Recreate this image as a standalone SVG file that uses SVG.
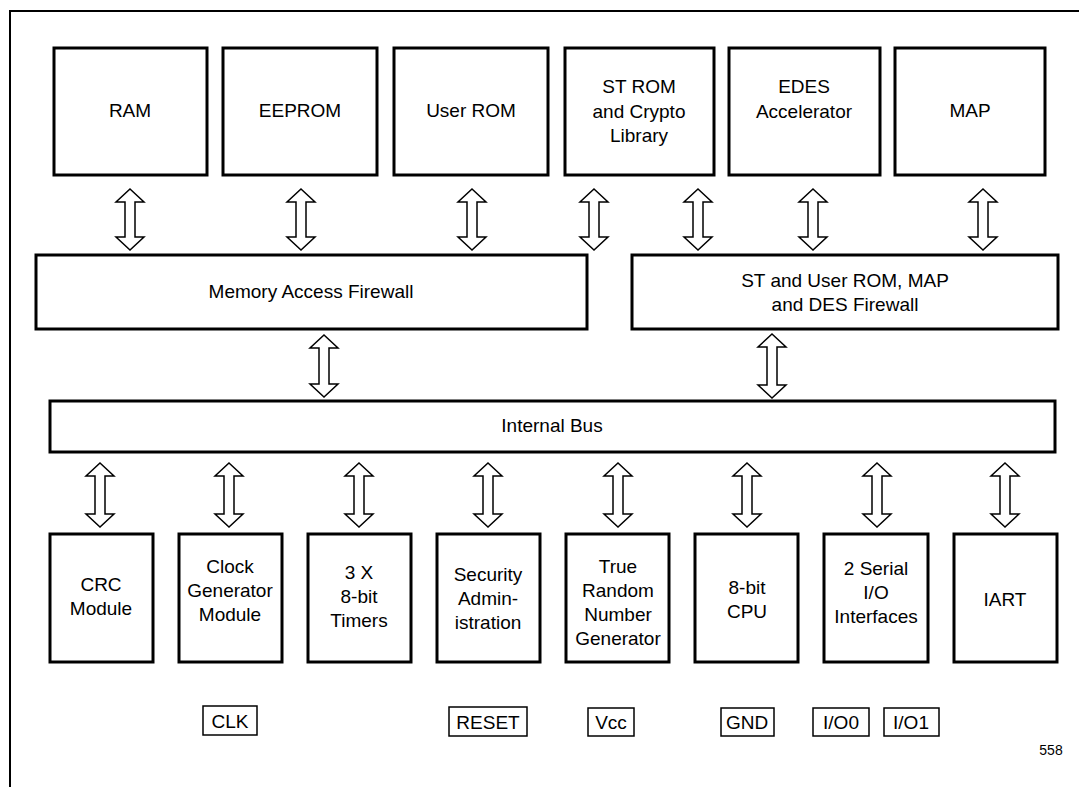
<svg xmlns="http://www.w3.org/2000/svg" width="1079" height="787" viewBox="0 0 1079 787">
<style>
.box{fill:#fff;stroke:#000;stroke-width:3}
.pin{fill:#fff;stroke:#000;stroke-width:1.5}
.arr{fill:#fff;stroke:#000;stroke-width:1.5;stroke-linejoin:miter}
text{font-family:"Liberation Sans",Arial,sans-serif;font-size:19px;fill:#000;text-anchor:middle}
.sm{font-size:14px}
</style>
<rect width="1079" height="787" fill="#fff"/>
<path d="M10 787 L10 11 L1079 11" fill="none" stroke="#000" stroke-width="2"/>

<g id="ram"><rect class="box" x="54" y="48" width="153" height="127"/><text x="130" y="117">RAM</text></g>
<g id="eeprom"><rect class="box" x="223" y="48" width="154" height="127"/><text x="300" y="117">EEPROM</text></g>
<g id="userrom"><rect class="box" x="394" y="48" width="154" height="127"/><text x="471" y="117">User ROM</text></g>
<g id="strom"><rect class="box" x="565" y="48" width="149" height="127"/><text x="639" y="93">ST ROM</text><text x="639" y="118">and Crypto</text><text x="639" y="142">Library</text></g>
<g id="edes"><rect class="box" x="729" y="48" width="151" height="127"/><text x="804" y="93">EDES</text><text x="804" y="118">Accelerator</text></g>
<g id="map"><rect class="box" x="895" y="48" width="150" height="127"/><text x="970" y="117">MAP</text></g>

<g id="memfw"><rect class="box" x="36" y="255" width="551" height="74"/><text x="311" y="298">Memory Access Firewall</text></g>
<g id="stfw"><rect class="box" x="632" y="255" width="426" height="74"/><text x="845" y="287">ST and User ROM, MAP</text><text x="845" y="311">and DES Firewall</text></g>
<g id="bus"><rect class="box" x="50" y="401" width="1005" height="51"/><text x="552" y="432">Internal Bus</text></g>

<g id="crc"><rect class="box" x="50" y="534" width="103" height="128"/><text x="101" y="591">CRC</text><text x="101" y="615">Module</text></g>
<g id="clock"><rect class="box" x="179" y="534" width="103" height="128"/><text x="230" y="573">Clock</text><text x="230" y="597">Generator</text><text x="230" y="621">Module</text></g>
<g id="timers"><rect class="box" x="308" y="534" width="103" height="128"/><text x="359" y="579">3 X</text><text x="359" y="603">8-bit</text><text x="359" y="627">Timers</text></g>
<g id="security"><rect class="box" x="437" y="534" width="103" height="128"/><text x="488" y="581">Security</text><text x="488" y="605">Admin-</text><text x="488" y="629">istration</text></g>
<g id="trng"><rect class="box" x="566" y="534" width="103" height="128"/><text x="618" y="573">True</text><text x="618" y="597">Random</text><text x="618" y="621">Number</text><text x="618" y="645">Generator</text></g>
<g id="cpu"><rect class="box" x="695" y="534" width="103" height="128"/><text x="747" y="594">8-bit</text><text x="747" y="618">CPU</text></g>
<g id="serial"><rect class="box" x="824" y="534" width="104" height="128"/><text x="876" y="575">2 Serial</text><text x="876" y="599">I/O</text><text x="876" y="623">Interfaces</text></g>
<g id="iart"><rect class="box" x="954" y="534" width="103" height="128"/><text x="1005" y="606">IART</text></g>

<g id="pin-clk"><rect class="pin" x="203" y="706" width="54" height="29"/><text x="230" y="728">CLK</text></g>
<g id="pin-reset"><rect class="pin" x="449" y="707" width="78" height="29"/><text x="488" y="729">RESET</text></g>
<g id="pin-vcc"><rect class="pin" x="588" y="708" width="46" height="28"/><text x="611" y="729">Vcc</text></g>
<g id="pin-gnd"><rect class="pin" x="721" y="708" width="53" height="28"/><text x="747" y="729">GND</text></g>
<g id="pin-io0"><rect class="pin" x="813" y="708" width="56" height="28"/><text x="841" y="729">I/O0</text></g>
<g id="pin-io1"><rect class="pin" x="884" y="708" width="55" height="28"/><text x="911" y="729">I/O1</text></g>
<text class="sm" x="1051" y="755">558</text>

<g id="connectors">
<path class="arr" d="M130 189 L144 202 L135 202 L135 237 L144 237 L130 250 L116 237 L125 237 L125 202 L116 202 Z"/>
<path class="arr" d="M301 189 L315 202 L306 202 L306 237 L315 237 L301 250 L287 237 L296 237 L296 202 L287 202 Z"/>
<path class="arr" d="M472 189 L486 202 L477 202 L477 237 L486 237 L472 250 L458 237 L467 237 L467 202 L458 202 Z"/>
<path class="arr" d="M594 189 L608 202 L599 202 L599 237 L608 237 L594 250 L580 237 L589 237 L589 202 L580 202 Z"/>
<path class="arr" d="M698 189 L712 202 L703 202 L703 237 L712 237 L698 250 L684 237 L693 237 L693 202 L684 202 Z"/>
<path class="arr" d="M813 189 L827 202 L818 202 L818 237 L827 237 L813 250 L799 237 L808 237 L808 202 L799 202 Z"/>
<path class="arr" d="M983 189 L997 202 L988 202 L988 237 L997 237 L983 250 L969 237 L978 237 L978 202 L969 202 Z"/>
<path class="arr" d="M324 335 L338 348 L329 348 L329 384 L338 384 L324 397 L310 384 L319 384 L319 348 L310 348 Z"/>
<path class="arr" d="M772 334 L786 347 L777 347 L777 385 L786 385 L772 398 L758 385 L767 385 L767 347 L758 347 Z"/>
<path class="arr" d="M100 463 L114 476 L105 476 L105 514 L114 514 L100 527 L86 514 L95 514 L95 476 L86 476 Z"/>
<path class="arr" d="M229 463 L243 476 L234 476 L234 514 L243 514 L229 527 L215 514 L224 514 L224 476 L215 476 Z"/>
<path class="arr" d="M359 463 L373 476 L364 476 L364 514 L373 514 L359 527 L345 514 L354 514 L354 476 L345 476 Z"/>
<path class="arr" d="M488 463 L502 476 L493 476 L493 514 L502 514 L488 527 L474 514 L483 514 L483 476 L474 476 Z"/>
<path class="arr" d="M618 463 L632 476 L623 476 L623 514 L632 514 L618 527 L604 514 L613 514 L613 476 L604 476 Z"/>
<path class="arr" d="M747 463 L761 476 L752 476 L752 514 L761 514 L747 527 L733 514 L742 514 L742 476 L733 476 Z"/>
<path class="arr" d="M877 463 L891 476 L882 476 L882 514 L891 514 L877 527 L863 514 L872 514 L872 476 L863 476 Z"/>
<path class="arr" d="M1005 463 L1019 476 L1010 476 L1010 514 L1019 514 L1005 527 L991 514 L1000 514 L1000 476 L991 476 Z"/>
</g>
</svg>
